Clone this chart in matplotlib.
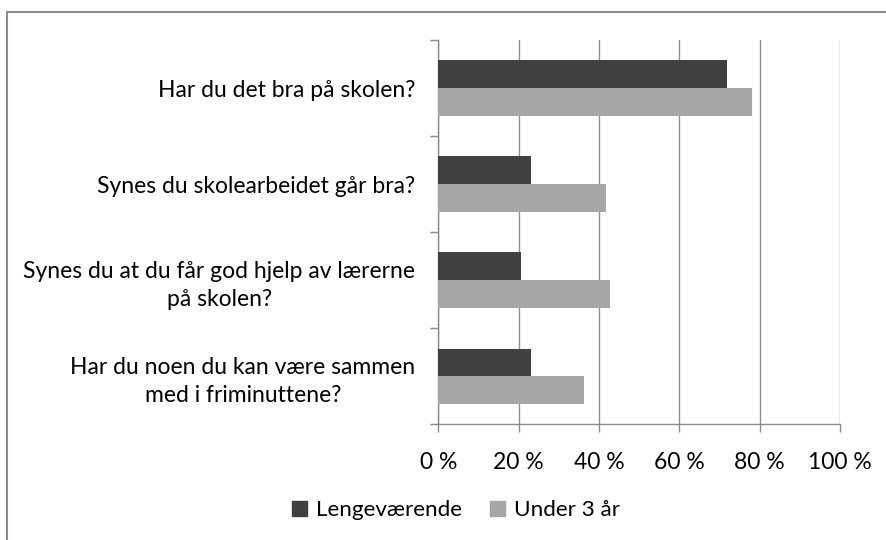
import matplotlib
matplotlib.use("Agg")
import matplotlib.pyplot as plt
from matplotlib.patches import Rectangle, Patch
import numpy as np

categories = [
    "Har du det bra på skolen?",
    "Synes du skolearbeidet går bra?",
    "Synes du at du får god hjelp av lærerne\npå skolen?",
    "Har du noen du kan være sammen\nmed i friminuttene?",
]
lengevaerende = [71.8, 23.1, 20.6, 23.1]
under3 = [78.1, 41.8, 42.8, 36.3]
series_names = ["Lengeværende", "Under 3 år"]
xticks = [0, 20, 40, 60, 80, 100]
xticklabels = ["0 %", "20 %", "40 %", "60 %", "80 %", "100 %"]

dark = "#404040"
light = "#a6a6a6"
grid_c = "#8c8c8c"
plt.rcParams["font.family"] = ["Lato", "DejaVu Sans"]
FS = 16.5

W, H = 887, 540
fig = plt.figure(figsize=(W / 100, H / 100), dpi=100)

# outer chart border (only top/left visible in the reference)
fig.patches.append(Rectangle((7 / W, -0.1), 1.2, 1 - 12 / H + 0.1,
                             transform=fig.transFigure, fill=False,
                             edgecolor="#8c8c8c", linewidth=1.5))

ax = fig.add_axes([438.3 / W, 1 - 424.3 / H, (840 - 438.3) / W, (424.3 - 40) / H])

y = np.arange(len(categories))
h = 0.2885
ax.barh(y - h / 2, lengevaerende, height=h, color=dark, label=series_names[0], zorder=3)
ax.barh(y + h / 2, under3, height=h, color=light, label=series_names[1], zorder=3)

ax.set_xlim(0, 100)
ax.set_ylim(len(categories) - 0.5, -0.5)

ax.set_xticks(xticks)
ax.set_xticklabels(xticklabels, fontsize=FS)
ax.set_yticks(y)
ax.set_yticklabels(categories, fontsize=FS, linespacing=1.4, ha="right",
                   multialignment="center")
ax.tick_params(axis="y", which="major", length=0, pad=16.5)
ax.set_yticks(np.arange(-0.5, len(categories)), minor=True)
ax.tick_params(axis="y", which="minor", length=6, color=grid_c, width=1)
ax.tick_params(axis="x", length=6, color=grid_c, width=1, pad=14)

ax.xaxis.grid(True, color=grid_c, linewidth=1, zorder=0)
ax.set_axisbelow(True)
for s in ["top", "right"]:
    ax.spines[s].set_visible(False)
for s in ["left", "bottom"]:
    ax.spines[s].set_color(grid_c)
    ax.spines[s].set_linewidth(1)

handles = [Patch(color=dark), Patch(color=light)]
fig.legend(handles, series_names, loc="center", bbox_to_anchor=(456 / W, 1 - 510 / H),
           ncol=2, frameon=False, fontsize=16.2, handlelength=0.65, handleheight=0.65,
           handletextpad=0.4, columnspacing=1.25)

fig.savefig("out.png", dpi=100)
